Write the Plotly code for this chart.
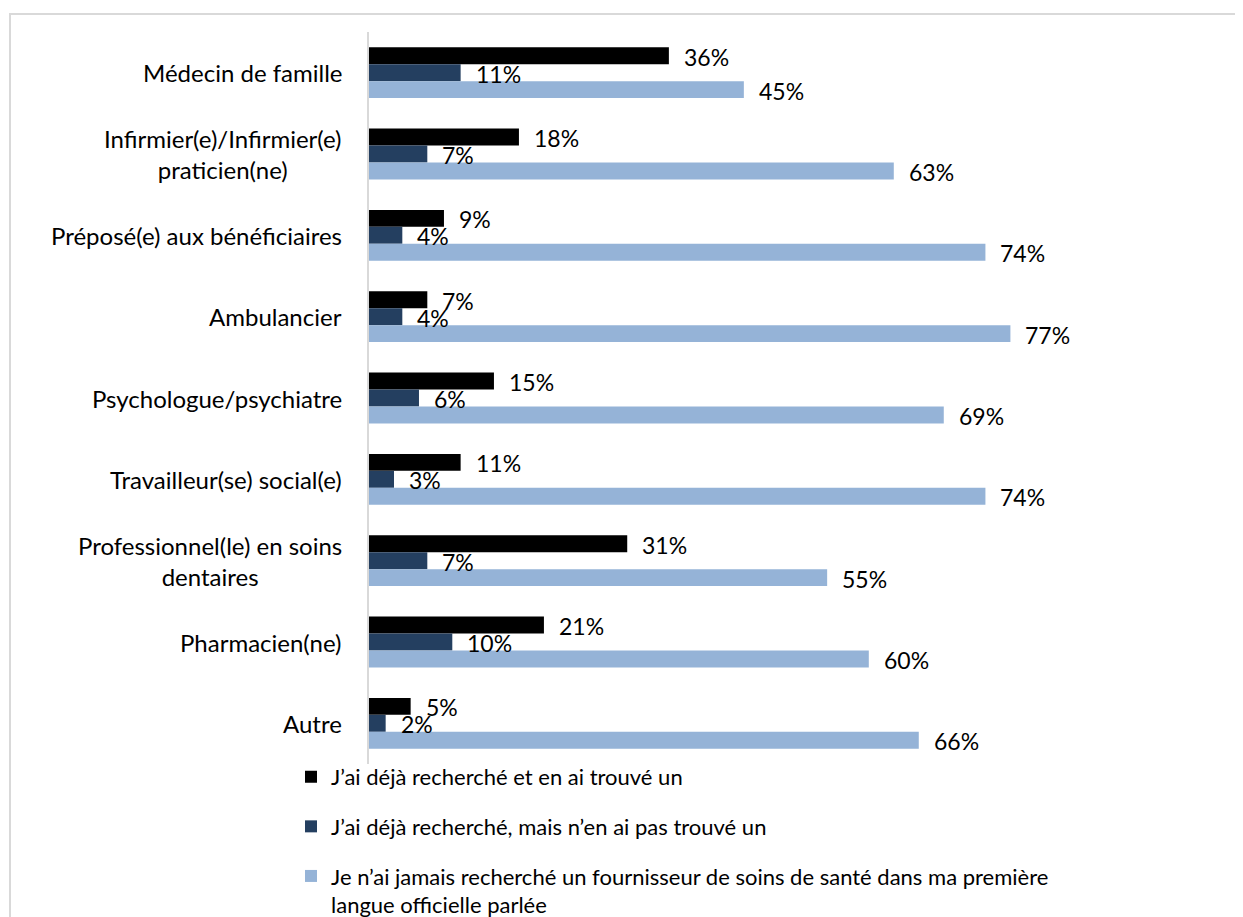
import plotly.graph_objects as go

categories = [
    "Médecin de famille",
    "Infirmier(e)/Infirmier(e)<br>praticien(ne)",
    "Préposé(e) aux bénéficiaires",
    "Ambulancier",
    "Psychologue/psychiatre",
    "Travailleur(se) social(e)",
    "Professionnel(le) en soins<br>dentaires",
    "Pharmacien(ne)",
    "Autre",
]
series_names = [
    "J’ai déjà recherché et en ai trouvé un",
    "J’ai déjà recherché, mais n’en ai pas trouvé un",
    "Je n’ai jamais recherché un fournisseur de soins de santé dans ma première<br>langue officielle parlée",
]
found = [36, 18, 9, 7, 15, 11, 31, 21, 5]
not_found = [11, 7, 4, 4, 6, 3, 7, 10, 2]
never = [45, 63, 74, 77, 69, 74, 55, 60, 66]

colors = ["#000000", "#243F60", "#95B3D7"]
series_values = [found, not_found, never]
yshifts = [17, 0, -17]

FONT = "Lato"
W, H = 1243, 917
ML, MT, PW, PH = 361, 24, 833, 732

fig = go.Figure()
for i, (name, vals) in enumerate(zip(series_names, series_values)):
    fig.add_trace(go.Bar(
        y=categories, x=vals, name=name, orientation="h",
        marker=dict(color=colors[i], line=dict(width=0)),
        legendgroup=f"g{i}", hoverinfo="x+y",
    ))

annotations = []
for i, vals in enumerate(series_values):
    for c, v in zip(categories, vals):
        annotations.append(dict(
            x=v, y=c, xref="x", yref="y", text=f"{v}%", showarrow=False,
            xanchor="left", yanchor="middle", xshift=13, yshift=yshifts[i] - 1,
            font=dict(family=FONT, size=23, color="#000000"),
        ))
for c in categories:
    annotations.append(dict(
        x=0, y=c, xref="paper", yref="y", text=c, showarrow=False,
        xanchor="right", yanchor="middle", align="center", xshift=-25,
        font=dict(family=FONT, size=24, color="#000000"),
    ))

fig.update_layout(
    width=W, height=H,
    margin=dict(l=ML, t=MT, r=W - ML - PW, b=H - MT - PH, autoexpand=False),
    paper_bgcolor="white", plot_bgcolor="white",
    barmode="group", bargap=0.374, bargroupgap=0,
    font=dict(family=FONT, size=22, color="#000000"),
    xaxis=dict(range=[0, 100], visible=False, fixedrange=True),
    yaxis=dict(autorange="reversed", showticklabels=False, showline=True,
               linecolor="#d9d9d9", linewidth=2, showgrid=False, ticks="",
               zeroline=False),
    legend=dict(x=(283 - ML) / PW, xanchor="left", y=0.011, yanchor="top",
                orientation="v", tracegroupgap=18, valign="top",
                font=dict(family=FONT, size=22, color="#000000"),
                bgcolor="rgba(0,0,0,0)"),
    annotations=annotations,
    shapes=[dict(type="rect", xref="paper", yref="paper",
                 x0=(2 - ML) / PW, x1=(1260 - ML) / PW,
                 y0=(MT + PH - 930) / PH, y1=(MT + PH - 6) / PH,
                 line=dict(color="#d9d9d9", width=2), fillcolor="rgba(0,0,0,0)",
                 layer="below")],
)

fig.write_html("out.html")
